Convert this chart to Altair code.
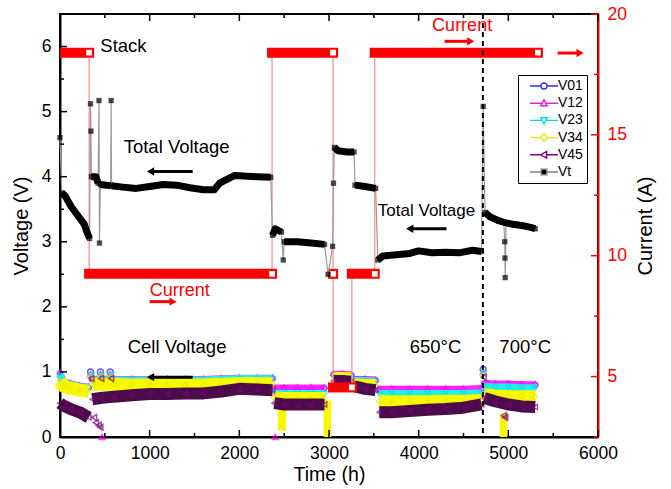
import altair as alt
import pandas as pd

# ---------------- data ----------------
# Total stack voltage Vt (time h, volt, segment id)
vt_t = [0, 20, 60, 120, 200, 270, 300, 330, 340, 345, 350, 400, 425, 435, 440, 450, 520, 565, 570, 575,
        700, 850, 1000, 1150, 1300, 1450, 1600, 1720, 1780, 1850, 1950, 2050, 2200, 2350,
        2370, 2400, 2470, 2490, 2500, 2650, 2800, 2950, 2990, 3040, 3050, 3060, 3100, 3200, 3280,
        3290, 3400, 3520, 3545, 3600, 3750, 3900, 4000, 4150, 4300, 4450, 4600, 4700,
        4720, 4740, 4800, 4900, 4950, 4960, 4962, 4965, 4975, 5050, 5150, 5250, 5300]
vt_v = [4.6, 3.75, 3.7, 3.55, 3.4, 3.27, 3.15, 3.05, 5.12, 4.7, 4.0, 4.0, 3.9, 5.17, 2.98, 3.88, 3.87, 3.86, 5.17, 3.86,
        3.84, 3.82, 3.85, 3.88, 3.87, 3.83, 3.8, 3.8, 3.9, 3.95, 4.02, 4.01, 4.0, 3.99,
        3.1, 3.2, 3.15, 2.72, 3.0, 3.0, 2.98, 2.96, 2.5, 2.93, 3.9, 4.45, 4.4, 4.38, 4.38,
        3.87, 3.85, 3.82, 2.72, 2.78, 2.8, 2.82, 2.86, 2.83, 2.84, 2.83, 2.87, 2.85,
        5.08, 3.45, 3.38, 3.32, 3.3, 3.0, 2.75, 2.45, 3.29, 3.27, 3.25, 3.22, 3.2]
vt_seg = [0, 1, 1, 1, 1, 1, 1, 1, 2, 3, 4, 4, 4, 5, 6, 7, 7, 7, 8, 9,
          9, 9, 9, 9, 9, 9, 9, 9, 9, 9, 9, 9, 9, 9,
          10, 10, 10, 11, 12, 12, 12, 12, 13, 14, 15, 16, 16, 16, 16,
          17, 17, 17, 18, 18, 18, 18, 18, 18, 18, 18, 18, 18,
          19, 20, 20, 20, 20, 21, 22, 23, 20, 20, 20, 20, 20]

# Cell voltages (shared time base, segment id)
cell_t = [0, 40, 120, 220, 320,
          360, 450, 600, 800, 1000, 1200, 1400, 1600, 1800, 2000, 2200, 2370,
          2390, 2500, 2650, 2800, 2950,
          3050, 3150, 3250,
          3280, 3400, 3520,
          3560, 3700, 3900, 4100, 4300, 4500, 4700,
          4730, 4850, 5000, 5150, 5300]
cell_seg = [0, 0, 0, 0, 0,
            1, 1, 1, 1, 1, 1, 1, 1, 1, 1, 1, 1,
            2, 2, 2, 2, 2,
            3, 3, 3,
            4, 4, 4,
            5, 5, 5, 5, 5, 5, 5,
            6, 6, 6, 6, 6]
V01 = [0.98, 0.85, 0.81, 0.78, 0.76,
       0.88, 0.88, 0.88, 0.88, 0.88, 0.88, 0.88, 0.88, 0.89, 0.9, 0.9, 0.9,
       0.75, 0.75, 0.75, 0.75, 0.75,
       0.96, 0.96, 0.95,
       0.88, 0.88, 0.87,
       0.73, 0.73, 0.73, 0.73, 0.73, 0.73, 0.74,
       0.82, 0.81, 0.81, 0.8, 0.8]
V12 = [1.0, 0.86, 0.83, 0.8, 0.78,
       0.9, 0.9, 0.9, 0.9, 0.9, 0.9, 0.9, 0.9, 0.91, 0.92, 0.92, 0.92,
       0.77, 0.77, 0.77, 0.77, 0.77,
       0.98, 0.98, 0.97,
       0.9, 0.9, 0.89,
       0.75, 0.75, 0.75, 0.75, 0.75, 0.75, 0.76,
       0.84, 0.83, 0.83, 0.82, 0.82]
V23 = [0.96, 0.83, 0.8, 0.77, 0.75,
       0.87, 0.87, 0.87, 0.87, 0.87, 0.87, 0.87, 0.87, 0.88, 0.89, 0.89, 0.89,
       0.67, 0.66, 0.66, 0.66, 0.66,
       0.93, 0.93, 0.92,
       0.86, 0.86, 0.85,
       0.66, 0.66, 0.66, 0.66, 0.66, 0.66, 0.67,
       0.77, 0.76, 0.76, 0.75, 0.75]
V34 = [0.86, 0.78, 0.75, 0.72, 0.7,
       0.81, 0.81, 0.81, 0.8, 0.8, 0.8, 0.8, 0.8, 0.81, 0.82, 0.82, 0.82,
       0.6, 0.59, 0.59, 0.59, 0.59,
       0.9, 0.9, 0.89,
       0.8, 0.79, 0.79,
       0.55, 0.54, 0.54, 0.54, 0.55, 0.55, 0.56,
       0.65, 0.63, 0.62, 0.62, 0.62]
V45 = [0.52, 0.48, 0.43, 0.38, 0.3,
       0.58, 0.6, 0.62, 0.64, 0.66, 0.66, 0.67, 0.67, 0.7, 0.74, 0.73, 0.72,
       0.52, 0.5, 0.5, 0.5, 0.5,
       0.86, 0.86, 0.85,
       0.78, 0.74, 0.72,
       0.38, 0.38, 0.4, 0.42, 0.43, 0.45, 0.5,
       0.6, 0.55, 0.5, 0.47, 0.46]

# isolated cell-voltage events (spikes and drops)
ev_name = ["V01", "V01", "V01", "V01",
           "V12", "V12", "V12", "V12", "V12", "V12",
           "V23", "V23", "V23", "V23",
           "V34", "V34", "V34", "V34",
           "V45", "V45", "V45", "V45", "V45", "V45", "V45", "V45", "V45", "V45"]
ev_t = [340, 450, 560, 4720,
        340, 450, 560, 4720, 470, 2400,
        345, 455, 565, 4720,
        345, 455, 565, 4720,
        350, 460, 570, 4725, 380, 400, 430, 450, 4950, 4965]
ev_v = [1.0, 1.0, 1.0, 1.04,
        0.97, 0.97, 0.97, 1.0, 0.0, 0.0,
        0.95, 0.95, 0.95, 0.98,
        0.93, 0.93, 0.93, 0.95,
        0.9, 0.9, 0.9, 0.92, 0.3, 0.22, 0.18, 0.15, 0.33, 0.3]

# V34 dropouts
drop_t1 = [2430, 2940, 4905]
drop_t2 = [2520, 3025, 4985]
drop_top = [0.56, 0.56, 0.36]
drop_bot = [0.1, 0.0, 0.0]

# Current (A)
cur_t = [0, 325, 325, 2365, 2365, 3045, 3045, 3045, 3255, 3255, 3510, 3510, 5330]
cur_c = [18.4, 18.4, 9.25, 9.25, 18.4, 18.4, 9.25, 4.55, 4.55, 9.25, 9.25, 18.4, 18.4]
cur_seg = [0, 0, 1, 1, 2, 2, 3, 4, 4, 5, 5, 6, 6]
cur_end = [0, 1, 0, 1, 0, 1, 1, 0, 1, 0, 1, 0, 1]

# temperature change
t_switch = [4716]

# annotations
ann_text = ["Stack", "Total Voltage", "Cell Voltage", "650°C", "700°C"]
ann_t = [450, 710, 755, 3900, 4900]
ann_v = [6.01, 4.45, 1.39, 1.38, 1.38]
ann2_text = ["Total Voltage"]
ann2_t = [3545]
ann2_v = [3.47]
red_text = ["Current", "Current"]
red_t = [4150, 1000]
red_v = [6.32, 2.25]

# arrows (tail time, head time, level)
arr_black_t1 = [1480, 4310, 1480]
arr_black_t2 = [1010, 3900, 1010]
arr_black_v = [4.08, 3.2, 0.92]
arr_red_t1 = [4290, 1000, 5550]
arr_red_t2 = [4580, 1260, 5800]
arr_red_v = [6.08, 2.08, 5.9]

legend_names = ["V01", "V12", "V23", "V34", "V45", "Vt"]

# ticks
x_major = [0, 1000, 2000, 3000, 4000, 5000, 6000]
x_minor = [500, 1500, 2500, 3500, 4500, 5500]
v_major = [0, 1, 2, 3, 4, 5, 6]
v_minor = [0.5, 1.5, 2.5, 3.5, 4.5, 5.5]
c_major = [5, 10, 15, 20]
c_minor = [2.5, 7.5, 12.5, 17.5]

# ---------------- frames ----------------
W, H = 538, 423
FONT = "Liberation Sans"

vt_df = pd.DataFrame({"t": vt_t, "v": vt_v, "seg": vt_seg, "i": range(len(vt_t))})
cell_cols = {"V01": V01, "V12": V12, "V23": V23, "V34": V34, "V45": V45}
cells = {k: pd.DataFrame({"t": cell_t, "v": vals, "seg": cell_seg}) for k, vals in cell_cols.items()}
ev_df = pd.DataFrame({"name": ev_name, "t": ev_t, "v": ev_v})
drop_df = pd.DataFrame({"t": drop_t1, "t2": drop_t2, "v": drop_top, "v2": drop_bot})
cur_df = pd.DataFrame({"t": cur_t, "c": cur_c, "seg": cur_seg, "end": cur_end, "i": range(len(cur_t))})

xs = alt.Scale(domain=[0, 6000], nice=False)
vs = alt.Scale(domain=[0, 6.5], nice=False)
cs = alt.Scale(domain=[2.5, 20], nice=False, zero=False)

x_axis = alt.Axis(orient="bottom", values=x_major, format="d", ticks=False, grid=False, domain=True,
                  domainColor="black", domainWidth=2, labelFontSize=17.5, labelColor="black",
                  labelPadding=7, title="Time (h)", titleFontSize=19.5, titleFontWeight="normal",
                  titleColor="black", titlePadding=4, labelFlush=False)
v_axis = alt.Axis(orient="left", values=v_major, format="d", ticks=False, grid=False, domain=True,
                  domainColor="black", domainWidth=2, labelFontSize=17.5, labelColor="black",
                  labelPadding=9, title="Voltage (V)", titleFontSize=20, titleFontWeight="normal",
                  titleColor="black", titlePadding=10, labelFlush=False)
c_axis = alt.Axis(orient="right", values=c_major, format="d", ticks=False, grid=False, domain=True,
                  domainColor="#ff0000", domainWidth=2, labelFontSize=17.5, labelColor="#ff0000",
                  labelPadding=9, title="Current (A)", titleFontSize=20, titleFontWeight="normal",
                  titleColor="black", titlePadding=29, titleAngle=270, labelFlush=False)

X = lambda f="t": alt.X(f"{f}:Q", scale=xs, axis=x_axis, title="Time (h)")
VY = lambda f="v": alt.Y(f"{f}:Q", scale=vs, axis=v_axis, title="Voltage (V)")
Y = lambda f="v": alt.Y(f"{f}:Q", scale=vs, axis=None)
C = lambda f="c": alt.Y(f"{f}:Q", scale=cs, axis=c_axis, title="Current (A)")

band_style = {
    "V01": ("#3a3aff", 3, "circle"),
    "V12": ("#ff22ff", 5, "triangle-up"),
    "V23": ("#22eeee", 8, "triangle-down"),
    "V34": ("#f8f800", 13, "diamond"),
    "V45": ("#4a0d4a", 12, "triangle-left"),
}
marker_color = {"V01": "#2020ff", "V12": "#ff00ff", "V23": "#00e0e0", "V34": "#e8e800", "V45": "#800080"}

# ---------------- cell layers ----------------
cell_layers = []
for name, (col, sw, shp) in band_style.items():
    df = cells[name]
    cell_layers.append(alt.Chart(df).mark_line(color=col, strokeWidth=sw, strokeJoin="round")
                       .encode(x=X(), y=VY(), detail="seg:N"))
    cell_layers.append(alt.Chart(df).mark_point(shape=shp, color=marker_color[name], size=28,
                                                  filled=False, strokeWidth=1.3)
                       .encode(x=X(), y=VY()))
    cell_layers.append(alt.Chart(ev_df[ev_df.name == name]).mark_point(
        shape=shp, color=marker_color[name], size=34, filled=False, strokeWidth=1.5)
        .encode(x=X(), y=VY()))
    if name == "V34":
        cell_layers.append(alt.Chart(drop_df).mark_bar(color="#f8f800")
                           .encode(x=X(), x2="t2:Q", y=VY(), y2="v2:Q"))

cells_chart = alt.layer(*cell_layers)

# ---------------- current layers ----------------
cur_line = alt.Chart(cur_df).mark_line(color="#ff8a8a", strokeWidth=1.2).encode(
    x=X(), y=C(), order="i:Q")
cur_bar = alt.Chart(cur_df).mark_line(color="#ff0000", strokeWidth=10, strokeCap="square", clip=True).encode(
    x=X(), y=C(), detail="seg:N")
cur_sq = alt.Chart(cur_df).transform_filter("datum.end == 1").mark_point(
    shape="square", size=50, fill="white", stroke="#ff0000", filled=True, strokeWidth=1.3,
    opacity=1).encode(x=X(), y=C())
c_tick_maj = alt.Chart(pd.DataFrame({"c": c_major})).mark_rule(color="#ff0000", strokeWidth=1.5).encode(
    y=C(), x=alt.value(W - 7), x2=alt.value(W))
c_tick_min = alt.Chart(pd.DataFrame({"c": c_minor})).mark_rule(color="#ff0000", strokeWidth=1.5).encode(
    y=C(), x=alt.value(W - 4), x2=alt.value(W))
current_chart = alt.layer(cur_line, cur_bar, cur_sq, c_tick_maj, c_tick_min)

# ---------------- Vt + annotations + ticks ----------------
vt_gray = alt.Chart(vt_df).mark_line(color="#9a9a9a", strokeWidth=1.2).encode(x=X(), y=Y(), order="i:Q")
vt_thick = alt.Chart(vt_df).mark_line(color="black", strokeWidth=7, strokeJoin="round").encode(
    x=X(), y=Y(), detail="seg:N")
vt_pts = alt.Chart(vt_df).mark_point(shape="square", size=28, filled=True, color="black").encode(x=X(), y=Y())

switch = alt.Chart(pd.DataFrame({"t": t_switch})).mark_rule(
    color="black", strokeWidth=2, strokeDash=[5, 4]).encode(x=X())

ann = alt.Chart(pd.DataFrame({"t": ann_t, "v": ann_v, "txt": ann_text})).mark_text(
    align="left", baseline="middle", fontSize=18.5, color="black").encode(x=X(), y=Y(), text="txt:N")
ann2 = alt.Chart(pd.DataFrame({"t": ann2_t, "v": ann2_v, "txt": ann2_text})).mark_text(
    align="left", baseline="middle", fontSize=17, color="black").encode(x=X(), y=Y(), text="txt:N")
ann_red = alt.Chart(pd.DataFrame({"t": red_t, "v": red_v, "txt": red_text})).mark_text(
    align="left", baseline="middle", fontSize=18, color="#ff0000").encode(x=X(), y=Y(), text="txt:N")

ab = pd.DataFrame({"t": arr_black_t1, "t2": arr_black_t2, "v": arr_black_v})
ar = pd.DataFrame({"t": arr_red_t1, "t2": arr_red_t2, "v": arr_red_v})
arr_b_shaft = alt.Chart(ab).mark_rule(color="black", strokeWidth=3).encode(x=X(), x2="t2:Q", y=Y())
arr_b_head = alt.Chart(ab).mark_point(shape="triangle-left", size=70, filled=True, color="black",
                                      opacity=1).encode(x=X("t2"), y=Y())
arr_r_shaft = alt.Chart(ar).mark_rule(color="#ff0000", strokeWidth=3).encode(x=X(), x2="t2:Q", y=Y())
arr_r_head = alt.Chart(ar).mark_point(shape="triangle-right", size=70, filled=True, color="#ff0000",
                                      opacity=1).encode(x=X("t2"), y=Y())

x_tick_maj_b = alt.Chart(pd.DataFrame({"t": x_major})).mark_rule(color="black", strokeWidth=1.5).encode(
    x=X(), y=alt.value(H), y2=alt.value(H - 7))
x_tick_min_b = alt.Chart(pd.DataFrame({"t": x_minor})).mark_rule(color="black", strokeWidth=1.5).encode(
    x=X(), y=alt.value(H), y2=alt.value(H - 4))
x_tick_maj_t = alt.Chart(pd.DataFrame({"t": x_major})).mark_rule(color="black", strokeWidth=1.5).encode(
    x=X(), y=alt.value(0), y2=alt.value(7))
x_tick_min_t = alt.Chart(pd.DataFrame({"t": x_minor})).mark_rule(color="black", strokeWidth=1.5).encode(
    x=X(), y=alt.value(0), y2=alt.value(4))
v_tick_maj = alt.Chart(pd.DataFrame({"v": v_major})).mark_rule(color="black", strokeWidth=1.5).encode(
    y=Y(), x=alt.value(0), x2=alt.value(7))
v_tick_min = alt.Chart(pd.DataFrame({"v": v_minor})).mark_rule(color="black", strokeWidth=1.5).encode(
    y=Y(), x=alt.value(0), x2=alt.value(4))

# legend-only layer (marks clipped away, legend drawn)
shape_paths = [
    "M-2.8,0H-0.6M0.6,0H2.8M-0.6,0A0.6,0.6,0,1,1,0.6,0A0.6,0.6,0,1,1,-0.6,0Z",
    "M-2.8,0H-0.4M0.4,0H2.8M0,-0.68L0.66,0.52L-0.66,0.52Z",
    "M-2.8,0H-0.4M0.4,0H2.8M0,0.68L0.66,-0.52L-0.66,-0.52Z",
    "M-2.8,0H-0.72M0.72,0H2.8M0,-0.72L0.72,0L0,0.72L-0.72,0Z",
    "M-2.8,0H-0.68M0.52,0H2.8M-0.68,0L0.52,-0.66L0.52,0.66Z",
    "M-2.8,0H-0.56M0.56,0H2.8M-0.56,-0.56H0.56V0.56H-0.56Z",
]
leg_stroke = ["#3030ff", "#e020e0", "#00d8e8", "#e8e800", "#800080", "#808080"]
leg_fill = ["white", "white", "white", "white", "white", "black"]
leg = alt.Legend(title=None, orient="none", legendX=458, legendY=61, symbolSize=100,
                 symbolStrokeWidth=1.4, labelFontSize=14, labelFont=FONT, labelColor="black",
                 strokeColor="black", fillColor="white", padding=4, rowPadding=3.2,
                 symbolOffset=15, labelOffset=7, symbolOpacity=1)
legend_layer = alt.Chart(pd.DataFrame({"name": legend_names})).mark_point(clip=True, filled=False).encode(
    x=alt.value(-200), y=alt.value(-200),
    stroke=alt.Stroke("name:N", scale=alt.Scale(domain=legend_names, range=leg_stroke), legend=leg),
    fill=alt.Fill("name:N", scale=alt.Scale(domain=legend_names, range=leg_fill), legend=leg),
    shape=alt.Shape("name:N", scale=alt.Scale(domain=legend_names, range=shape_paths), legend=leg),
)

vt_chart = alt.layer(vt_gray, vt_thick, vt_pts, switch, ann, ann2, ann_red,
                     arr_b_shaft, arr_b_head, arr_r_shaft, arr_r_head,
                     x_tick_maj_b, x_tick_min_b, x_tick_maj_t, x_tick_min_t, v_tick_maj, v_tick_min,
                     legend_layer)

chart = alt.layer(cells_chart, current_chart, vt_chart).resolve_scale(y="independent").properties(
    width=W, height=H,
    autosize=alt.AutoSizeParams(type="none"),
    padding={"left": 60, "top": 14, "right": 73, "bottom": 52},
    background="white",
).configure(font=FONT).configure_view(stroke="black", strokeWidth=2)

chart.save("out.html", embed_options={"renderer": "svg", "actions": False})
